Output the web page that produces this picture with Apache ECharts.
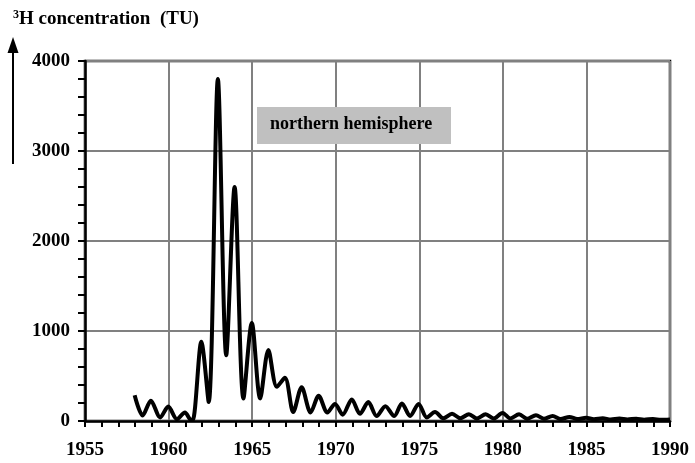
<!DOCTYPE html>
<html>
<head>
<meta charset="utf-8">
<script src="https://cdn.jsdelivr.net/npm/echarts@6/dist/echarts.min.js"></script>
<style>html,body{margin:0;padding:0;background:#fff;}#c{width:695px;height:463px;}</style>
</head>
<body>
<div id="c"></div>
<script>
var years = [1957.97,1958.45,1958.94,1959.50,1959.98,1960.50,1960.98,1961.33,1961.45,1961.96,
  1962.40,1962.95,1963.45,1963.95,1964.48,1964.98,1965.48,1965.97,1966.48,1966.96,
  1967.46,1967.96,1968.50,1968.98,1969.50,1969.96,1970.42,1970.96,1971.45,1971.95,
  1972.45,1972.97,1973.50,1973.96,1974.45,1974.96,1975.45,1975.94,1976.44,1976.96,
  1977.45,1977.97,1978.45,1978.97,1979.45,1979.98,1980.45,1980.97,1981.45,1981.98,
  1982.45,1982.98,1983.45,1983.98,1984.45,1984.98,1985.45,1985.98,1986.45,1986.98,
  1987.45,1987.98,1988.45,1988.98,1989.45,1990.0];
var tritium = [285,60,225,40,160,20,95,15,15,880,
  210,3800,730,2600,250,1090,250,790,380,480,
  100,375,95,280,95,190,70,240,80,210,
  55,165,55,195,55,190,40,100,30,80,
  30,75,28,75,28,90,28,75,25,65,
  25,55,22,45,22,35,20,30,18,28,
  17,26,15,22,14,18];
var xTicks = [1955,1960,1965,1970,1975,1980,1985,1990];
var yTicks = [0,1000,2000,3000,4000];
var yTitleSup = '3';
var yTitleMain = 'H concentration  (TU)';
var boxLabel = 'northern hemisphere';

var pts = years.map(function(y,i){return [y, tritium[i]];});
var font = 'Liberation Serif';
var chart = echarts.init(document.getElementById('c'));
chart.setOption({
  animation:false,
  backgroundColor:'#fff',
  grid:{left:85,right:25,top:61,bottom:42,show:true,borderColor:'#000',borderWidth:2.5,backgroundColor:'transparent'},
  xAxis:{type:'value',min:xTicks[0],max:xTicks[xTicks.length-1],interval:5,
    axisLine:{show:true,lineStyle:{color:'#000',width:2.5}},
    axisTick:{show:true,inside:false,length:6,lineStyle:{color:'#000',width:2}},
    minorTick:{show:true,splitNumber:5,length:6,lineStyle:{color:'#000',width:2}},
    splitLine:{show:true,lineStyle:{color:'#808080',width:2}},
    axisLabel:{color:'#000',fontFamily:font,fontWeight:'bold',fontSize:19,margin:20,
      formatter:function(v){return String(v);}}
  },
  yAxis:{type:'value',min:yTicks[0],max:yTicks[yTicks.length-1],interval:1000,
    axisLine:{show:true,lineStyle:{color:'#000',width:2.5}},
    axisTick:{show:true,inside:false,length:7,lineStyle:{color:'#000',width:2}},
    minorTick:{show:true,splitNumber:5,length:7,lineStyle:{color:'#000',width:2}},
    splitLine:{show:true,lineStyle:{color:'#808080',width:2}},
    axisLabel:{color:'#000',fontFamily:font,fontWeight:'bold',fontSize:19,margin:15,
      formatter:function(v){return String(v);}}
  },
  series:[{type:'line',data:pts,showSymbol:false,smooth:0.3,
    lineStyle:{color:'#000',width:4},z:5}],
  graphic:[
    {type:'rect',left:257,top:107,shape:{width:194,height:37},style:{fill:'#c0c0c0'},z:10},
    {type:'text',left:270,top:115,style:{text:boxLabel,fill:'#000',font:'bold 18px "Liberation Serif"'},z:11},
    {type:'text',left:13,top:9,style:{
      text:'{s|'+yTitleSup+'}{b|'+yTitleMain+'}',
      rich:{s:{fontFamily:font,fontWeight:'bold',fontSize:12,fill:'#000',verticalAlign:'top',padding:[0,0,9,0]},
            b:{fontFamily:font,fontWeight:'bold',fontSize:19,fill:'#000'}}
    },z:11},
    {type:'line',shape:{x1:13,y1:164,x2:13,y2:48},style:{stroke:'#000',lineWidth:2}},
    {type:'polygon',shape:{points:[[13,37],[7.5,53],[18.5,53]]},style:{fill:'#000'}}
  ]
});
</script>
</body>
</html>
